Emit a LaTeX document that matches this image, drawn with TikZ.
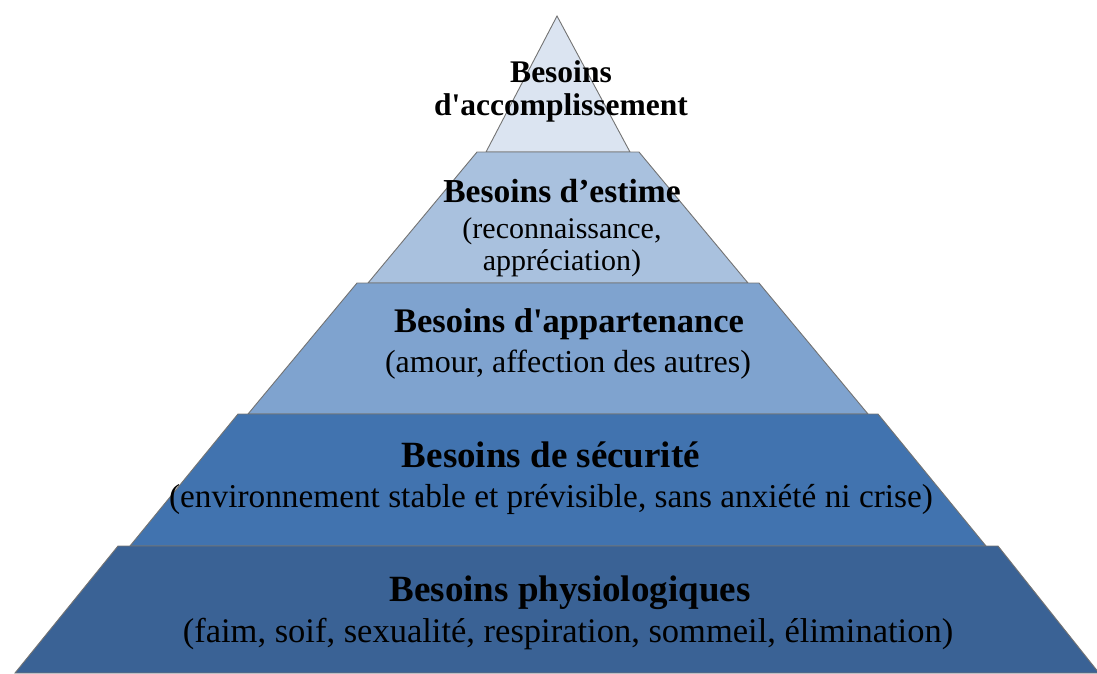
\documentclass[tikz,border=0pt]{standalone}
\usepackage{fontspec}
\setmainfont{Liberation Serif}
\definecolor{levelA}{RGB}{219,228,241}
\definecolor{levelB}{RGB}{169,193,222}
\definecolor{levelC}{RGB}{127,163,207}
\definecolor{levelD}{RGB}{65,115,175}
\definecolor{levelE}{RGB}{58,98,149}
\tikzset{
  layer/.style={draw=black!55, line width=0.9pt, line join=miter},
  heading/.style={anchor=base, inner sep=0pt, font=\bfseries},
  detail/.style={anchor=base, inner sep=0pt}
}
\newcommand{\fsz}[1]{\fontsize{#1}{#1}\selectfont}
\begin{document}
\begin{tikzpicture}[x=1pt, y=-1pt]
      \useasboundingbox (0,0) rectangle (1097,673);

      \filldraw[layer, fill=levelA] (557,16) -- (630,152) -- (486,152) -- cycle;
      \filldraw[layer, fill=levelB] (477,152) -- (639,152) -- (748,283) -- (368,283) -- cycle;
      \filldraw[layer, fill=levelC] (357,283) -- (759,283) -- (868,414) -- (248,414) -- cycle;
      \filldraw[layer, fill=levelD] (238,414) -- (878,414) -- (986,546) -- (130,546) -- cycle;
      \filldraw[layer, fill=levelE] (118,546) -- (998,546) -- (1099,673) -- (15,673) -- cycle;

      \node[heading, font=\bfseries\fsz{31.5}] (topA) at (561,82) {Besoins};
      \node[heading, font=\bfseries\fsz{31.5}] (topB) at (561,115) {d\textquotesingle accomplissement};

      \node[heading, font=\bfseries\fsz{33.5}] (estA) at (562,202) {Besoins d’estime};
      \node[detail, font=\fsz{30}] (estB) at (562,238) {(reconnaissance,};
      \node[detail, font=\fsz{30}] (estC) at (562,270) {appréciation)};

      \node[heading, font=\bfseries\fsz{34.5}] (appA) at (569,332) {Besoins d\textquotesingle appartenance};
      \node[detail, font=\fsz{32}] (appB) at (568,372) {(amour, affection des autres)};

      \node[heading, font=\bfseries\fsz{37}] (secA) at (551,467) {Besoins de sécurité};
      \node[detail, font=\fsz{33.3}] (secB) at (551,507) {(environnement stable et prévisible, sans anxiété ni crise)};

      \node[heading, font=\bfseries\fsz{37}] (phyA) at (570,601) {Besoins physiologiques};
      \node[detail, font=\fsz{34.5}] (phyB) at (568,642) {(faim, soif, sexualité, respiration, sommeil, élimination)};
\end{tikzpicture}
\end{document}
